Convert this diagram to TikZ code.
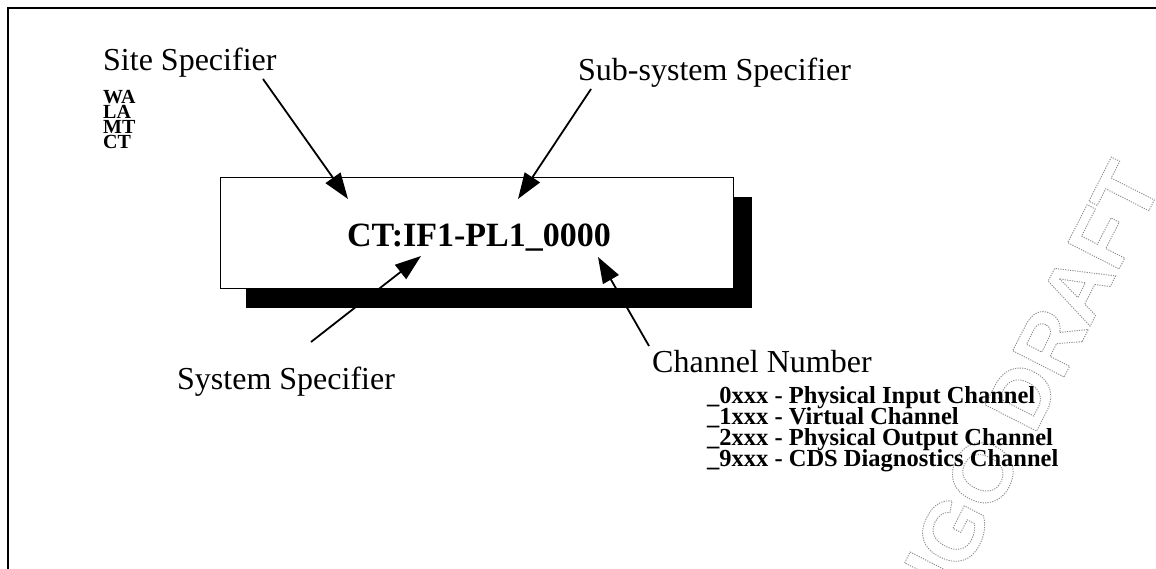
\documentclass[tikz,border=0pt]{standalone}
\usepackage{fontspec}
\setmainfont{Liberation Serif}
\newfontfamily\wmfont{Liberation Sans}
\usetikzlibrary{arrows.meta}
\tikzset{
  lbl/.style={anchor=base west, inner sep=0pt, font=\fontsize{32}{36}\selectfont},
  site/.style={anchor=base west, inner sep=0pt, font=\fontsize{20}{20}\selectfont\bfseries},
  chan/.style={anchor=base west, inner sep=0pt, align=left, font=\fontsize{24.5}{20}\selectfont\bfseries},
  ptr/.style={line width=1.8pt, -{Triangle[length=26pt,width=18pt]}},
}
\begin{document}
\begin{tikzpicture}[x=1pt,y=-1pt]
\useasboundingbox (0,0) rectangle (1156,569);
% watermark
\begin{scope}
\clip (0,0) rectangle (1156,569);
\node[rotate=63, inner sep=0pt, text=black!45] (wm) at (1021,398)
  {\special{pdf:literal direct 1 Tr 0.9 w [1.2 1.2] 0 d}\wmfont\bfseries\fontsize{84}{84}\selectfont LIGO DRAFT\special{pdf:literal direct 0 Tr [] 0 d}};
\end{scope}
% frame
\draw[line width=2.5pt] (8,569) -- (8,8) -- (1156,8);
% box with shadow
\fill (246,197) rectangle (752,308);
\node[draw, fill=white, line width=1pt, minimum width=513pt, minimum height=111pt, inner sep=0pt, anchor=north west] (box) at (220,177) {};
\node[inner sep=0pt, font=\fontsize{34}{34}\selectfont\bfseries] (code) at (479,238) {CT:IF1-PL1\_0000};
% labels
\node[lbl] (site) at (103,71) {Site Specifier};
\node[site] (wa) at (103,104) {WA};
\node[site] (la) at (103,119) {LA};
\node[site] (mt) at (103,134) {MT};
\node[site] (ct) at (103,149) {CT};
\node[lbl] (sub) at (578,81) {Sub-system Specifier};
\node[lbl] (sys) at (177,389) {System Specifier};
\node[lbl] (chn) at (652,372) {Channel Number};
\node[chan] (l0) at (707,403) {\_0xxx - Physical Input Channel};
\node[chan] (l1) at (707,424) {\_1xxx - Virtual Channel};
\node[chan] (l2) at (707,445) {\_2xxx - Physical Output Channel};
\node[chan] (l3) at (707,466) {\_9xxx - CDS Diagnostics Channel};
% pointers
\coordinate (siteT) at (263,79);
\coordinate (siteH) at (348,199);
\coordinate (subT) at (591,89);
\coordinate (subH) at (518,199);
\coordinate (sysT) at (311,342);
\coordinate (sysH) at (421,256);
\coordinate (chnT) at (649,346);
\coordinate (chnH) at (598,257);
\draw[ptr] (siteT) -- (siteH);
\draw[ptr] (subT) -- (subH);
\draw[ptr] (sysT) -- (sysH);
\draw[ptr] (chnT) -- (chnH);
\end{tikzpicture}
\end{document}
